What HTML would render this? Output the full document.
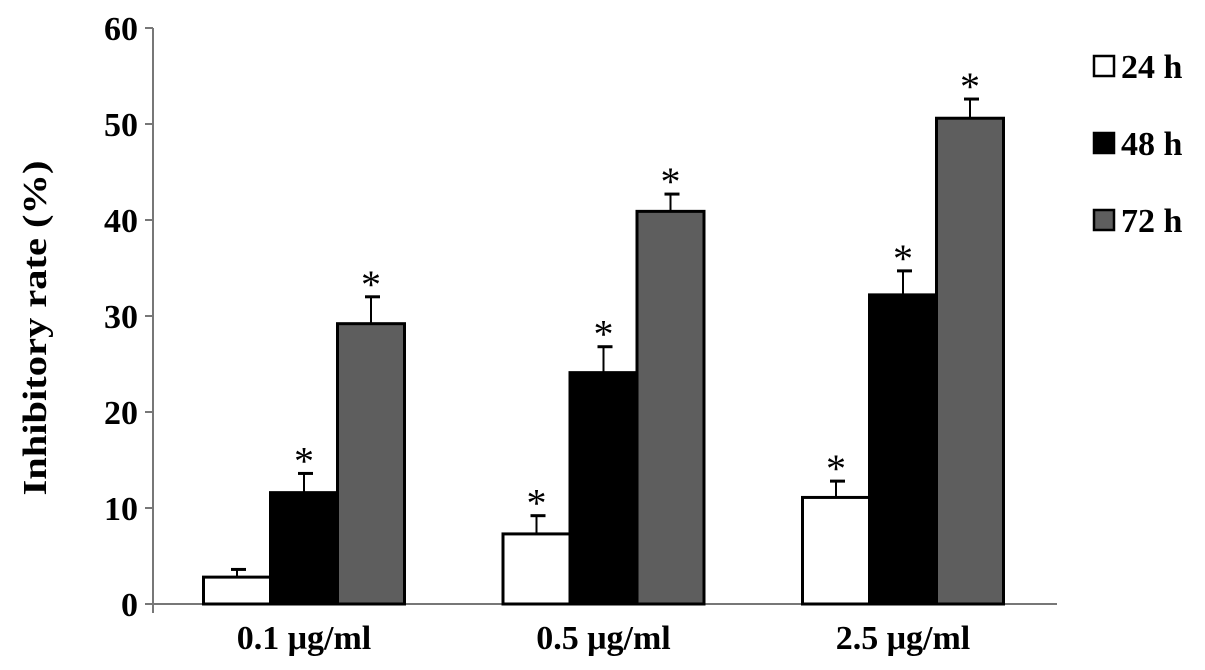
<!DOCTYPE html>
<html><head><meta charset="utf-8"><style>
body{margin:0;background:#fff;}
svg{display:block;font-family:"Liberation Serif",serif;font-weight:bold;}
</style></head><body>
<svg id="chart" width="1205" height="670" xmlns="http://www.w3.org/2000/svg"></svg>
<script>
const categories = ["0.1 μg/ml", "0.5 μg/ml", "2.5 μg/ml"];
const seriesNames = ["24 h", "48 h", "72 h"];
const values24 = [2.8, 7.3, 11.1];
const values48 = [11.6, 24.1, 32.2];
const values72 = [29.2, 40.9, 50.6];
const err24 = [0.8, 1.9, 1.7];
const err48 = [2.0, 2.7, 2.5];
const err72 = [2.8, 1.8, 2.0];
const sig24 = [false, true, true];
const sig48 = [true, true, true];
const sig72 = [true, true, true];
const yTicks = [0, 10, 20, 30, 40, 50, 60];

const NS = "http://www.w3.org/2000/svg";
const svg = document.getElementById("chart");
const x0 = 153, x1 = 1057, y0 = 604, yTop = 28, yMax = 60;
const Y = v => y0 - (v / yMax) * (y0 - yTop);
const groupW = 299.5, gStart = 304;
const barW = 67;
const fills = ["#ffffff", "#000000", "#5e5e5e"];
const vals = [values24, values48, values72];
const errs = [err24, err48, err72];
const sigs = [sig24, sig48, sig72];
const X = (ci, si) => gStart + groupW * ci - 1.5 * barW + si * barW;

function mk(tag, attrs, text) {
  const e = document.createElementNS(NS, tag);
  for (const k in attrs) e.setAttribute(k, attrs[k]);
  if (text !== undefined) e.textContent = text;
  svg.appendChild(e);
  return e;
}

let ax = mk("line", {x1: x0, y1: yTop, x2: x0, y2: y0 + 9, stroke: "#777", "stroke-width": 2});


ax = mk("line", {x1: x0, y1: y0, x2: x1, y2: y0, stroke: "#777", "stroke-width": 2});



yTicks.forEach(t => {
  const tk = mk("line", {x1: x0 - 8, y1: Y(t), x2: x0, y2: Y(t), stroke: "#777", "stroke-width": 2});
  
  
  const lb = mk("text", {x: x0 - 15, y: Y(t) + 12, "text-anchor": "end", "font-size": 34}, t);
  
  
});

const yt = mk("text", {x: 0, y: 0, "text-anchor": "middle", "font-size": 34, textLength: 335, lengthAdjust: "spacingAndGlyphs", transform: "translate(46,328) rotate(-90)"}, "Inhibitory rate (%)");



categories.forEach((c, ci) => {
  const lb = mk("text", {x: gStart + groupW * ci, y: 649, "text-anchor": "middle", "font-size": 34}, c);
  
  
  for (let si = 0; si < 3; si++) {
    const v = vals[si][ci], e = errs[si][ci];
    const bx = X(ci, si), cx = bx + barW / 2;
    const el = mk("line", {x1: cx, y1: Y(v), x2: cx, y2: Y(v + e), stroke: "#000", "stroke-width": 2});
    
    
    const cap = mk("line", {x1: cx - 6, y1: Y(v + e), x2: cx + 9, y2: Y(v + e), stroke: "#000", "stroke-width": 3});
    
    
    const r = mk("rect", {x: bx, y: Y(v), width: barW, height: y0 - Y(v), fill: fills[si], stroke: "#000", "stroke-width": 3});
    
    
    if (sigs[si][ci]) {
      const s = mk("text", {x: cx, y: Y(v + e) + 1, "text-anchor": "middle", "font-size": 40, "font-weight": "normal"}, "*");
      
      
    }
  }
});

seriesNames.forEach((n, i) => {
  const cy = 66 + i * 77;
  const r = mk("rect", {x: 1094, y: cy - 10, width: 20, height: 20, fill: fills[i], stroke: "#000", "stroke-width": 2.5});
  
  
  const t = mk("text", {x: 1121, y: cy + 12, "font-size": 34}, n);
  
  
});
</script>
</body></html>
